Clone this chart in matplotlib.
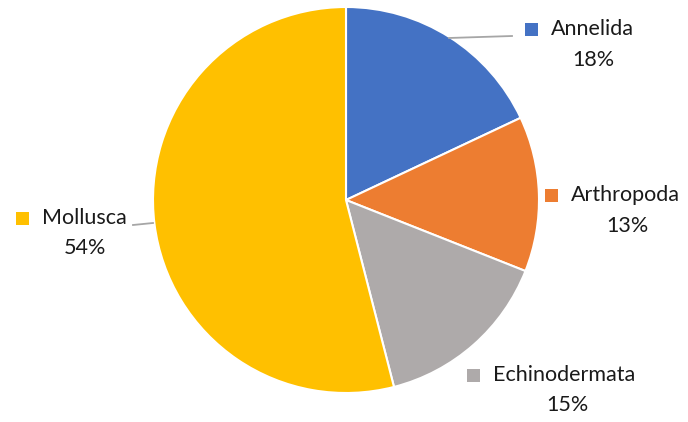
import matplotlib
matplotlib.use("Agg")
import matplotlib.pyplot as plt
from matplotlib.patches import Rectangle

phyla = ["Annelida", "Arthropoda", "Echinodermata", "Mollusca"]
shares = [18, 13, 15, 54]
colors = ["#4472C4", "#ED7D31", "#AEAAAA", "#FFC000"]

W, H = 688, 422
fig = plt.figure(figsize=(W / 100, H / 100), dpi=100)
ax = fig.add_axes([0, 0, 1, 1])

cx, cy, r = 346, H - 200, 193
ax.pie(shares, colors=colors, startangle=90, counterclock=False,
       center=(cx, cy), radius=r, frame=True,
       wedgeprops=dict(edgecolor="white", linewidth=1.5))
ax.set_xlim(0, W)
ax.set_ylim(0, H)
ax.set_aspect("equal")
ax.axis("off")

# label block: key square, name, percentage (pixel coords from top-left)
label_pos = {
    "Annelida": (525, 29, 593, 60),
    "Arthropoda": (545, 195, 627, 226),
    "Echinodermata": (467, 375, 567, 405),
    "Mollusca": (16, 218, 85, 248),
}
font = dict(family="Lato", fontsize=15.5, color="#1a1a1a")
for name, val, col in zip(phyla, shares, colors):
    sx, sy, px, py = label_pos[name]
    ax.add_patch(Rectangle((sx, H - sy - 6.5), 13, 13, color=col, lw=0))
    ax.text(sx + 26, H - sy, name, ha="left", va="center", **font)
    ax.text(px, H - py, f"{val}%", ha="center", va="center", **font)

# leader lines
ax.plot([449, 512], [H - 38, H - 36], color="#A6A6A6", lw=1.3)
ax.plot([133, 153], [H - 225, H - 223], color="#A6A6A6", lw=1.3)

fig.savefig("out.png", dpi=100, facecolor="white")
